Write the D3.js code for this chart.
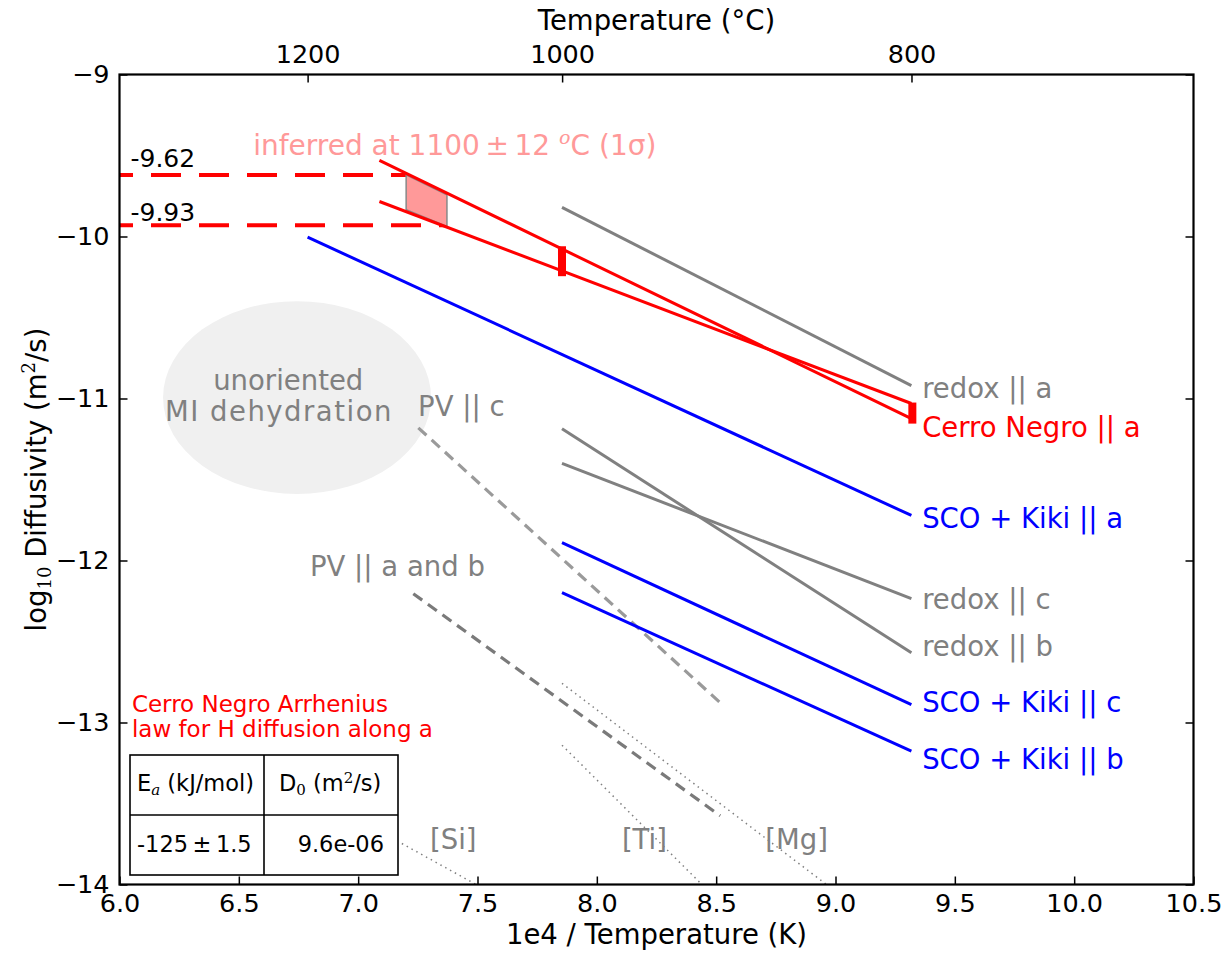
<!DOCTYPE html>
<html>
<head>
<meta charset="utf-8">
<script src="https://cdn.jsdelivr.net/npm/d3@7"></script>
<style>
html,body{margin:0;padding:0;background:#fff;}
svg{display:block;font-family:"DejaVu Sans",sans-serif;}
</style>
</head>
<body>
<svg id="chart" width="1231" height="954"></svg>
<script>
// ---------- DATA ----------
const xTicks = [6.0, 6.5, 7.0, 7.5, 8.0, 8.5, 9.0, 9.5, 10.0, 10.5];
const yTicks = [-9, -10, -11, -12, -13, -14];
const topTicksC = [1200, 1000, 800];

// x = 1e4/T(K), y = log10 D
const cerroNames = ["Cerro Negro upper", "Cerro Negro lower"];
const cerroX = [[7.089, 9.318], [7.089, 9.318]];
const cerroY = [[-9.530, -11.124], [-9.784, -11.031]];

const redoxNames = ["redox || a", "redox || c", "redox || b"];
const redoxX = [[7.854, 9.318], [7.854, 9.318], [7.854, 9.318]];
const redoxY = [[-9.82, -10.92], [-11.40, -12.235], [-11.187, -12.57]];

const scoNames = ["SCO + Kiki || a", "SCO + Kiki || c", "SCO + Kiki || b"];
const scoX = [[6.788, 9.318], [7.854, 9.318], [7.854, 9.318]];
const scoY = [[-10.004, -11.722], [-11.89, -12.889], [-12.199, -13.177]];

const pvNames = ["PV || c", "PV || a and b"];
const pvX = [[7.252, 8.524], [7.231, 8.517]];
const pvY = [[-11.181, -12.887], [-12.205, -13.576]];

const dotNames = ["[Si]", "[Ti]", "[Mg]"];
const dotX = [[7.183, 7.494], [7.854, 8.44], [7.854, 8.962]];
const dotY = [[-13.747, -14.0], [-13.140, -14.0], [-12.758, -14.0]];

const errX = [7.854, 9.322];
const errLo = [-10.245, -11.155];
const errHi = [-10.06, -11.025];

const inferredVals = [-9.62, -9.93];
const inferredXEnd = [7.21, 7.372];
const shadeX = [7.201, 7.372, 7.372, 7.201];
const shadeY = [-9.62, -9.743, -9.938, -9.835];

const ellipseCenter = [6.744, -10.994];
const ellipseSize = [1.123, 1.19];

const tableEa = "-125\u2009\u00b1\u20091.5";
const tableD0 = "9.6e-06";

// ---------- LAYOUT ----------
const svg = d3.select("#chart");
const L = 119.5, R = 1193.5, T = 74.5, B = 884.5;
const x = d3.scaleLinear().domain([6, 10.5]).range([L, R]);
const y = d3.scaleLinear().domain([-14, -9]).range([B, T]);
const FONT = "DejaVu Sans";
const GRAY = "#808080";

svg.append("defs").append("clipPath").attr("id", "clip")
  .append("rect").attr("x", L).attr("y", T).attr("width", R - L).attr("height", B - T);

const plot = svg.append("g").attr("clip-path", "url(#clip)");
const line = d3.line().x(d => x(d[0])).y(d => y(d[1]));
const pts = (xs, ys) => xs.map((v, i) => [v, ys[i]]);

// ellipse
plot.append("ellipse")
  .attr("cx", x(ellipseCenter[0])).attr("cy", y(ellipseCenter[1]))
  .attr("rx", x(ellipseCenter[0] + ellipseSize[0] / 2) - x(ellipseCenter[0]))
  .attr("ry", y(ellipseCenter[1]) - y(ellipseCenter[1] + ellipseSize[1] / 2))
  .attr("fill", "#f0f0f0");

// dotted lines
dotNames.forEach((n, i) => {
  plot.append("path").attr("d", line(pts(dotX[i], dotY[i])))
    .attr("fill", "none").attr("stroke", GRAY).attr("stroke-width", 1.5)
    .attr("stroke-dasharray", "1.5,4");
});

// PV dashed
pvNames.forEach((n, i) => {
  plot.append("path").attr("d", line(pts(pvX[i], pvY[i])))
    .attr("fill", "none").attr("stroke", i === 0 ? "#9a9a9a" : "#7a7a7a")
    .attr("stroke-width", 3.2).attr("stroke-dasharray", "11,7");
});

// redox
redoxNames.forEach((n, i) => {
  plot.append("path").attr("d", line(pts(redoxX[i], redoxY[i])))
    .attr("fill", "none").attr("stroke", GRAY).attr("stroke-width", 3);
});

// SCO + Kiki
scoNames.forEach((n, i) => {
  plot.append("path").attr("d", line(pts(scoX[i], scoY[i])))
    .attr("fill", "none").attr("stroke", "#0000ff").attr("stroke-width", 3);
});

// inferred dashed lines
inferredVals.forEach((v, i) => {
  plot.append("path").attr("d", line([[6.0, v], [inferredXEnd[i], v]]))
    .attr("fill", "none").attr("stroke", "#ff0000").attr("stroke-width", 4)
    .attr("stroke-dasharray", "30,18").attr("stroke-dashoffset", 16.5);
});

// shaded region
plot.append("path").attr("d", line(pts(shadeX, shadeY)) + "Z")
  .attr("fill", "#ff9999").attr("stroke", "#888").attr("stroke-width", 1.5);

// Cerro Negro lines
cerroNames.forEach((n, i) => {
  plot.append("path").attr("d", line(pts(cerroX[i], cerroY[i])))
    .attr("fill", "none").attr("stroke", "#ff0000").attr("stroke-width", 3);
});

// error bars
errX.forEach((v, i) => {
  plot.append("line").attr("x1", x(v)).attr("x2", x(v))
    .attr("y1", y(errLo[i])).attr("y2", y(errHi[i]))
    .attr("stroke", "#ff0000").attr("stroke-width", 8);
});

// ---------- AXES ----------
const axB = svg.append("g").attr("transform", `translate(0,${B})`)
  .call(d3.axisBottom(x).tickValues(xTicks).tickFormat(d3.format(".1f")).tickSize(-8).tickPadding(9));
const axL = svg.append("g").attr("transform", `translate(${L},0)`)
  .call(d3.axisLeft(y).tickValues(yTicks).tickFormat(d => "\u2212" + Math.abs(d)).tickSize(-8).tickPadding(10));
const axR = svg.append("g").attr("transform", `translate(${R},0)`)
  .call(d3.axisRight(y).tickValues(yTicks).tickFormat("").tickSize(-8));
const axT = svg.append("g").attr("transform", `translate(0,${T})`)
  .call(d3.axisTop(x).tickValues(topTicksC.map(c => 1e4 / (c + 273.15)))
    .tickFormat((d, i) => topTicksC[i]).tickSize(-8).tickPadding(12));
[axB, axL, axR, axT].forEach(a => {
  a.select(".domain").remove();
  a.selectAll(".tick line").attr("stroke", "#000").attr("stroke-width", 1.5);
  a.selectAll("text").attr("font-family", FONT).attr("font-size", 25.5).attr("fill", "#000");
});
svg.append("rect").attr("x", L).attr("y", T).attr("width", R - L).attr("height", B - T)
  .attr("fill", "none").attr("stroke", "#000").attr("stroke-width", 2.2);

// axis labels
svg.append("text").attr("x", (L + R) / 2).attr("y", 944).attr("text-anchor", "middle")
  .attr("font-family", FONT).attr("font-size", 27.5).text("1e4 / Temperature (K)");
svg.append("text").attr("x", (L + R) / 2).attr("y", 30).attr("text-anchor", "middle")
  .attr("font-family", FONT).attr("font-size", 27.5).text("Temperature (\u00b0C)");
const yl = svg.append("text").attr("transform", `translate(46,${(T + B) / 2}) rotate(-90)`)
  .attr("text-anchor", "middle").attr("font-family", FONT).attr("font-size", 27.5);
yl.append("tspan").text("log");
yl.append("tspan").attr("font-family", "DejaVu Serif").attr("font-size", 18).attr("dy", 5).text("10");
yl.append("tspan").attr("dy", -5).text(" Diffusivity (m");
yl.append("tspan").attr("font-family", "DejaVu Serif").attr("font-size", 18).attr("dy", -11).text("2");
yl.append("tspan").attr("dy", 11).text("/s)");

// ---------- ANNOTATIONS ----------
function label(px, py, txt, color, size, anchor) {
  return svg.append("text").attr("x", x(px)).attr("y", y(py))
    .attr("text-anchor", anchor || "start").attr("font-family", FONT)
    .attr("font-size", size).attr("fill", color).text(txt);
}
label(9.363, -10.994, redoxNames[0], GRAY, 27.5);
label(9.363, -11.240, "Cerro Negro || a", "#ff0000", 27.5);
label(9.363, -11.802, scoNames[0], "#0000ff", 27.5);
label(9.363, -12.301, redoxNames[1], GRAY, 27.5);
label(9.363, -12.591, redoxNames[2], GRAY, 27.5);
label(9.363, -12.936, scoNames[1], "#0000ff", 27.5);
label(9.363, -13.288, scoNames[2], "#0000ff", 27.5);
label(7.251, -11.105, pvNames[0], GRAY, 27.5);
label(6.798, -12.098, pvNames[1], GRAY, 27.5);
label(7.301, -13.78, dotNames[0], GRAY, 27.5);
label(8.105, -13.78, dotNames[1], GRAY, 27.5);
label(8.706, -13.78, dotNames[2], GRAY, 27.5);
label(6.707, -10.946, "unoriented", GRAY, 27.5, "middle");
label(6.668, -11.137, "MI dehydration", GRAY, 27.5, "middle").attr("letter-spacing", 1.5);
label(6.046, -9.568, "-9.62", "#000", 25);
label(6.046, -9.907, "-9.93", "#000", 25);

const inf = label(6.56, -9.496, "inferred at 1100", "#ff9999", 28);
inf.append("tspan").text("\u2009\u00b1\u200912 ");
inf.append("tspan").attr("font-family", "DejaVu Serif").attr("font-style", "italic")
  .attr("font-size", 19).attr("dy", -11).text("o");
inf.append("tspan").attr("dy", 11).text("C (1\u03c3)");

// Arrhenius caption + table
label(6.052, -12.937, "Cerro Negro Arrhenius", "#ff0000", 23);
label(6.052, -13.087, "law for H diffusion along a", "#ff0000", 23);

const tg = svg.append("g");
const tx0 = 130, tx1 = 264, tx2 = 398, ty0 = 755, ty1 = 815, ty2 = 875;
tg.append("rect").attr("x", tx0).attr("y", ty0).attr("width", tx2 - tx0).attr("height", ty2 - ty0)
  .attr("fill", "#fff").attr("stroke", "#000").attr("stroke-width", 1.6);
tg.append("line").attr("x1", tx1).attr("x2", tx1).attr("y1", ty0).attr("y2", ty2).attr("stroke", "#000").attr("stroke-width", 1.6);
tg.append("line").attr("x1", tx0).attr("x2", tx2).attr("y1", ty1).attr("y2", ty1).attr("stroke", "#000").attr("stroke-width", 1.6);
const h1 = tg.append("text").attr("x", 137).attr("y", 791).attr("font-family", FONT).attr("font-size", 22.5);
h1.append("tspan").text("E");
h1.append("tspan").attr("font-family", "DejaVu Serif").attr("font-style", "italic").attr("font-size", 15).attr("dy", 4).text("a");
h1.append("tspan").attr("dy", -4).text(" (kJ/mol)");
const h2 = tg.append("text").attr("x", 279).attr("y", 791).attr("font-family", FONT).attr("font-size", 22.5);
h2.append("tspan").text("D");
h2.append("tspan").attr("font-family", "DejaVu Serif").attr("font-size", 15).attr("dy", 4).text("0");
h2.append("tspan").attr("dy", -4).text(" (m");
h2.append("tspan").attr("font-family", "DejaVu Serif").attr("font-size", 15).attr("dy", -8).text("2");
h2.append("tspan").attr("dy", 8).text("/s)");
tg.append("text").attr("x", 137).attr("y", 852).attr("font-family", FONT).attr("font-size", 22.5).text(tableEa);
tg.append("text").attr("x", 384).attr("y", 852).attr("text-anchor", "end").attr("font-family", FONT).attr("font-size", 22.5).text(tableD0);
</script>
</body>
</html>
